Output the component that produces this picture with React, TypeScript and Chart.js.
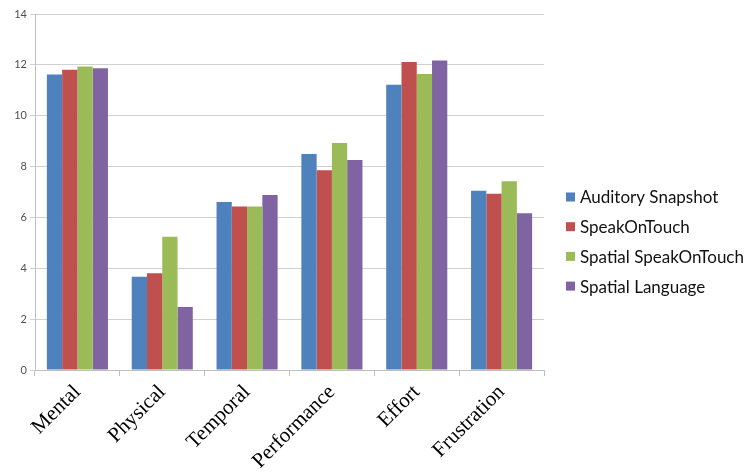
import React, { useEffect, useRef } from "react";
import { Chart, registerables } from "chart.js";

Chart.register(...registerables);

const categories = ["Mental", "Physical", "Temporal", "Performance", "Effort", "Frustration"];
const seriesNames = ["Auditory Snapshot", "SpeakOnTouch", "Spatial SpeakOnTouch", "Spatial Language"];
const auditorySnapshot = [11.62, 3.67, 6.61, 8.49, 11.22, 7.05];
const speakOnTouch = [11.81, 3.8, 6.43, 7.86, 12.11, 6.93];
const spatialSpeakOnTouch = [11.94, 5.24, 6.43, 8.93, 11.64, 7.42];
const spatialLanguage = [11.87, 2.48, 6.88, 8.26, 12.17, 6.16];
const seriesColors = ["#4F81BD", "#C0504D", "#9BBB59", "#8064A2"];
const yTicks = [0, 2, 4, 6, 8, 10, 12, 14];

const legendPlugin = {
  id: "sideLegend",
  afterDraw(chart: any) {
    const ctx = chart.ctx;
    const area = chart.chartArea;
    const x0 = area.right + 22;
    const y0 = 197;
    const step = 29.7;
    ctx.save();
    ctx.font = "17px Lato";
    ctx.textBaseline = "middle";
    ctx.textAlign = "left";
    chart.data.datasets.forEach((ds: any, i: number) => {
      const y = y0 + i * step;
      ctx.fillStyle = ds.backgroundColor;
      ctx.fillRect(x0, y - 4.5, 9, 9);
      ctx.fillStyle = "#111111";
      ctx.fillText(ds.label, x0 + 14, y + 1);
    });
    ctx.restore();
  },
};

export default function App() {
  const ref = useRef<HTMLCanvasElement>(null);
  useEffect(() => {
    if (!ref.current) return;
    const values = [auditorySnapshot, speakOnTouch, spatialSpeakOnTouch, spatialLanguage];
    const chart = new Chart(ref.current, {
      type: "bar",
      data: {
        labels: categories,
        datasets: seriesNames.map((name, i) => ({
          label: name,
          data: values[i],
          backgroundColor: seriesColors[i],
          borderWidth: 0,
          categoryPercentage: 0.72,
          barPercentage: 1.0,
        })),
      },
      options: {
        animation: false,
        responsive: false,
        maintainAspectRatio: false,
        layout: { padding: { top: 14, right: 206, left: 0, bottom: 0 } },
        plugins: {
          legend: { display: false },
          tooltip: { enabled: false },
        },
        scales: {
          x: {
            grid: {
              display: true,
              drawOnChartArea: false,
              drawTicks: true,
              tickLength: 6,
              color: "#BFBFBF",
              offset: true,
            },
            border: { display: true, color: "#BFBFBF" },
            ticks: {
              maxRotation: 45,
              minRotation: 45,
              padding: 4,
              color: "#000000",
              font: { family: "'Liberation Serif', 'Times New Roman', serif", size: 21 },
            },
            afterFit: (s: any) => {
              s.height = 102;
            },
          },
          y: {
            min: 0,
            max: 14,
            afterBuildTicks: (s: any) => {
              s.ticks = yTicks.map((v) => ({ value: v }));
            },
            grid: {
              color: "#D0D0D0",
              tickLength: 5,
              drawTicks: true,
            },
            border: { display: true, color: "#BFBFBF" },
            ticks: {
              padding: 3,
              color: "#505050",
              font: { family: "Lato", size: 11 },
            },
            afterFit: (s: any) => {
              s.width = 35;
            },
          },
        },
      },
      plugins: [legendPlugin],
    });
    return () => chart.destroy();
  }, []);
  return (
    <div style={{ position: "fixed", left: 0, top: 0, width: 750, height: 472, background: "#ffffff" }}>
      <canvas ref={ref} width={750} height={472} style={{ width: 750, height: 472, display: "block" }} />
    </div>
  );
}
